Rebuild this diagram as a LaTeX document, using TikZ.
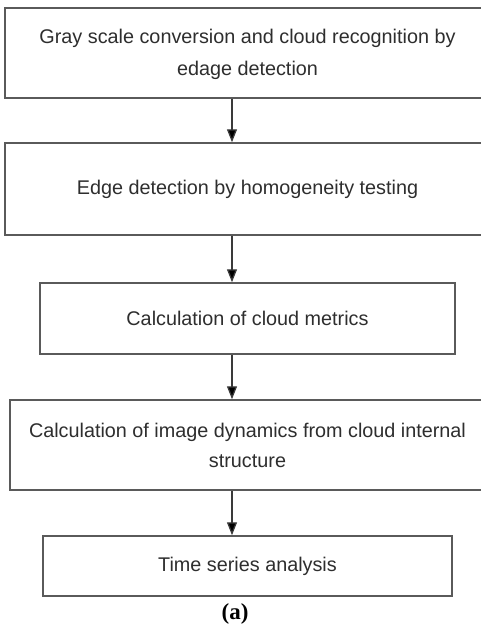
\documentclass[tikz,border=0pt]{standalone}
\usepackage{fontspec}
\setmainfont{Liberation Sans}
\newfontfamily\capfont{Liberation Serif}
\usetikzlibrary{arrows.meta}
\definecolor{boxline}{HTML}{5A5A5A}
\definecolor{txt}{HTML}{2E2E2E}
\definecolor{arrline}{HTML}{3A3A3A}
\begin{document}
\begin{tikzpicture}[x=1pt,y=-1pt,
  stepbox/.style={draw=boxline, line width=1.5pt, fill=white, align=center,
    text=txt, inner sep=0pt, font=\fontsize{19.8}{30}\selectfont},
  flowarrow/.style={draw=arrline, line width=1.3pt,
    -{Triangle[width=10pt,length=13pt,fill=black]}},
  caption/.style={font=\capfont\bfseries\fontsize{23}{26}\selectfont, text=black}]
\useasboundingbox (0,0) rectangle (481,632);
\clip (0,0) rectangle (481,632);
\fill[white] (0,0) rectangle (481,632);
\coordinate (ax) at (232,0);
\node[stepbox, minimum width=485pt, minimum height=90pt] (b1) at (247.5,53)
  {\raisebox{4pt}{\begin{tabular}{@{}c@{}}Gray scale conversion and cloud recognition by\\[2pt]edage detection\end{tabular}}};
\node[stepbox, minimum width=485pt, minimum height=92pt] (b2) at (247.5,189)
  {Edge detection by homogeneity testing};
\node[stepbox, minimum width=415pt, minimum height=71pt] (b3) at (247.5,318.5)
  {Calculation of cloud metrics};
\node[stepbox, minimum width=475pt, minimum height=90pt] (b4) at (247.5,445)
  {Calculation of image dynamics from cloud internal\\structure};
\node[stepbox, minimum width=409pt, minimum height=60pt] (b5) at (247.5,566)
  {Time series analysis};
\draw[flowarrow] (b1.south -| ax) -- (b2.north -| ax);
\draw[flowarrow] (b2.south -| ax) -- (b3.north -| ax);
\draw[flowarrow] (b3.south -| ax) -- (b4.north -| ax);
\draw[flowarrow] (b4.south -| ax) -- (b5.north -| ax);
\node[caption] (cap) at (235,614) {(a)};
\end{tikzpicture}
\end{document}
